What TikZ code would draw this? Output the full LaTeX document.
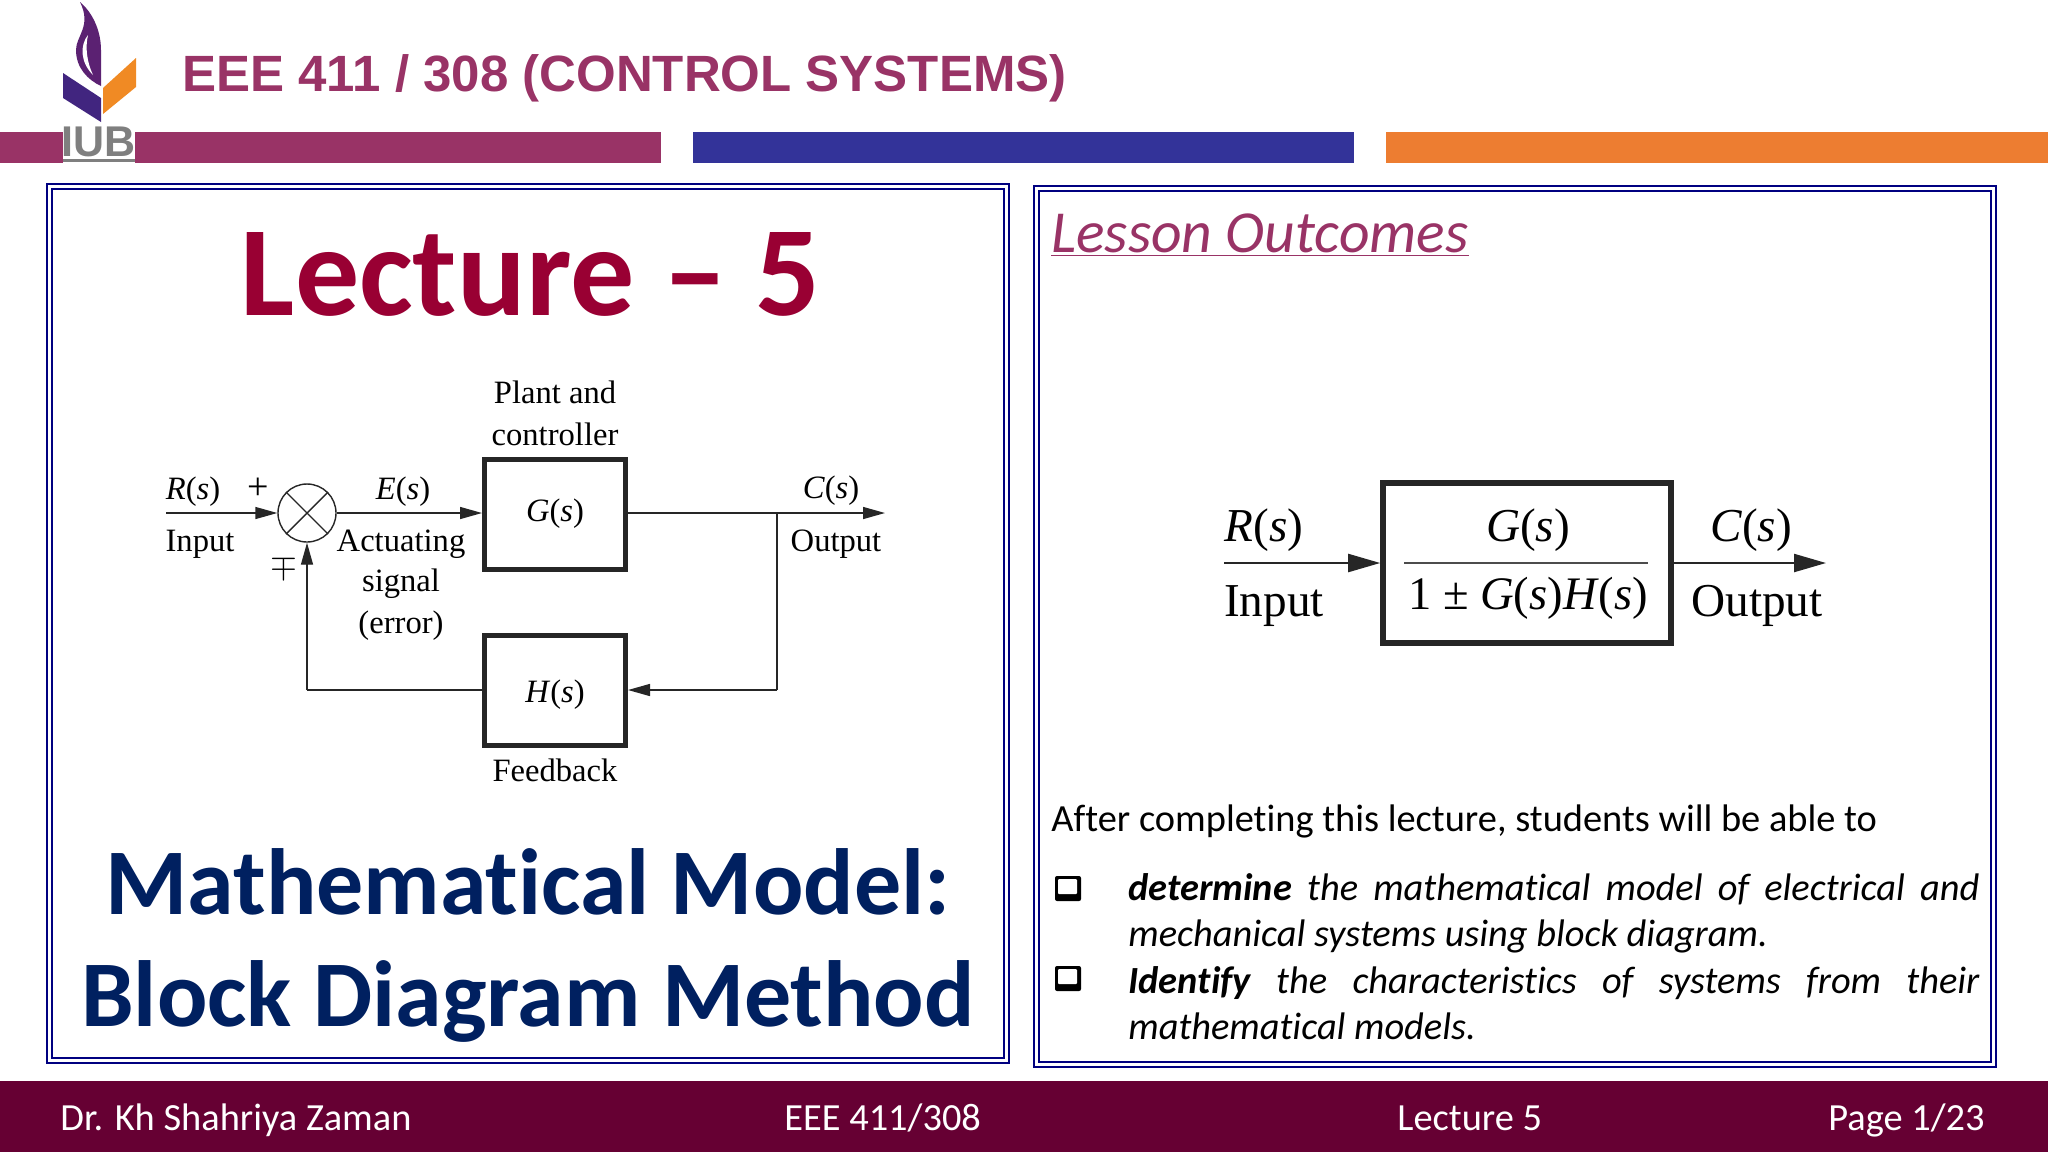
\documentclass[tikz,border=0pt]{standalone}
\usepackage{fontspec}
\usetikzlibrary{arrows.meta}
\setmainfont[Ligatures=NoCommon]{Carlito}
\newfontfamily\arialf{Liberation Sans}
\newfontfamily\timesf{Liberation Serif}
\definecolor{barpurple}{HTML}{993366}
\definecolor{barblue}{HTML}{333399}
\definecolor{barorange}{HTML}{ED7D31}
\definecolor{leccol}{HTML}{990033}
\definecolor{navytitle}{HTML}{002060}
\definecolor{framecol}{HTML}{000080}
\definecolor{footcol}{HTML}{660033}
\definecolor{flamecol}{HTML}{5B2172}
\definecolor{logoblue}{HTML}{41257F}
\definecolor{logoor}{HTML}{F08A24}
\definecolor{logogray}{HTML}{7F7F7F}
\newcommand{\fsz}[1]{\fontsize{#1}{#1}\selectfont}
\newcommand{\ts}[1]{\textit{#1}(\textit{s})}
\tikzset{
 x=0.5pt,y=-0.5pt,
 lab/.style={inner sep=0,anchor=base,font=\timesf\fsz{16.3}},
 big/.style={inner sep=0,anchor=base,font=\timesf\fsz{23.6}},
 blockbox/.style={draw=black!85,line width=2.5pt,minimum width=70.5pt,minimum height=55pt,inner sep=0,font=\timesf\fsz{16.3}},
 sig/.style={draw=black!85,line width=.7pt,-{Triangle[length=11pt,width=6pt]}},
 sigb/.style={draw=black!85,line width=1.1pt,-{Triangle[length=16pt,width=9pt]}},
 plain/.style={draw=black!85,line width=.7pt},
 foot/.style={inner sep=0,anchor=base west,text=white,font=\fsz{19.2}},
 bodyt/.style={inner sep=0,anchor=base west,font=\fsz{19.2}},
 bull/.style={inner sep=0,anchor=base west,font=\itshape\fontsize{19.2}{23}\selectfont,text width=425.5pt,align=justify},
 bigt/.style={inner sep=0,anchor=base,font=\bfseries\fsz{47},text=navytitle},
}
\begin{document}
\begin{tikzpicture}
\useasboundingbox (0,0) rectangle (2048,1152);
\fill[white] (0,0) rectangle (2048,1152);
% bars
\fill[barpurple] (0,132) rectangle (661,163);
\fill[barblue] (693,132) rectangle (1354,163);
\fill[barorange] (1386,132) rectangle (2048,163);
% logo
\fill[white] (63,130) rectangle (135,163);
\fill[flamecol] (80,2) .. controls (92,12) and (101,30) .. (101,50) -- (101,86) .. controls (88,80) and (76,68) .. (76,50) .. controls (76,36) and (92,26) .. (80,2) -- cycle;
\fill[white] (88,35) .. controls (80,45) and (80,62) .. (93,75) .. controls (87,62) and (85,48) .. (88,35) -- cycle;
\fill[logoblue] (63,73) -- (101,98) -- (101,122) -- (63,98) -- cycle;
\fill[logoor] (103,88) -- (136,58) -- (136,87) -- (103,114) -- cycle;
\node[inner sep=0,anchor=base,text=logogray,font=\arialf\bfseries\fsz{21.5}] (iub) at (99,156) {IUB};
\fill[logogray] (63,159) rectangle (135,162);
% title
\node[inner sep=0,anchor=base west,text=barpurple,font=\arialf\bfseries\fsz{25.5}] (title) at (182,91) {EEE 411 / 308 (CONTROL SYSTEMS)};
% frames
\foreach \a/\b/\c/\d in {47/184/1009/1063,1034/186/1996/1067}{
 \draw[framecol,line width=1pt] (\a,\b) rectangle (\c,\d);
 \draw[framecol,line width=.6pt] (\a+5,\b+5) rectangle (\c-5,\d-5);
}
% left
\node[inner sep=0,anchor=base,text=leccol,font=\bfseries\fsz{64}] (lec) at (531,315) {Lecture – 5};
\node[bigt] (mm) at (528,914) {Mathematical Model:};
\node[bigt] (bd) at (528,1026) {Block Diagram Method};
% left diagram
\node[draw=black!85,line width=.7pt,circle,minimum size=29pt,inner sep=0] (sum) at (307,513) {};
\draw[black!85,line width=.7pt] (sum.45) -- (sum.225) (sum.135) -- (sum.315);
\node[blockbox] (g) at (555,514) {\ts{G}};
\node[blockbox] (h) at (555,690) {};
\node[lab] (hl) at (555,702) {\ts{H}};
\coordinate (in) at (166,513);
\coordinate (out) at (885,513);
\coordinate (br) at (777,513);
\coordinate (fb1) at (777,690);
\coordinate (fb2) at (307,690);
\draw[sig] (in) -- (sum);
\draw[sig] (sum) -- (g.west|-sum);
\draw[sig] (g.east|-sum) -- (out);
\draw[plain] (br) -- (fb1);
\draw[sig] (fb1) -- (h.east|-fb1);
\draw[plain] (h.west|-fb2) -- (fb2);
\draw[sig] (fb2) -- (sum);
\node[lab] (rs) at (193,499) {\ts{R}};
\node[lab,font=\timesf\fsz{19}] (pl) at (258,499) {+};
\node[lab] (es) at (403,499) {\ts{E}};
\node[lab] (cs) at (831,498) {\ts{C}};
\node[lab] (inp) at (200,551) {Input};
\node[lab] (act) at (401,551) {Actuating};
\node[lab] (sgn) at (401,591) {signal};
\node[lab] (err) at (401,633) {(error)};
\node[lab] (opt) at (836,551) {Output};
\node[lab] (pa) at (555,403) {Plant and};
\node[lab] (co) at (555,445) {controller};
\node[lab] (fe) at (555,781) {Feedback};
\node[lab] (mp) at (284,575) {$\mp$};
% right
\node[inner sep=0,anchor=base west,text=barpurple,font=\itshape\fsz{29.8}] (lo) at (1051,252) {\underline{Lesson Outcomes}};
\node[draw=black!85,line width=2.8pt,minimum width=144pt,minimum height=80pt,inner sep=0] (tf) at (1527,563) {};
\coordinate (in2) at (1224,563);
\coordinate (out2) at (1826,563);
\draw[sigb] (in2) -- (tf);
\draw[sigb] (tf) -- (out2);
\node[big] (gs) at (1528,541) {\ts{G}};
\node[big,font=\timesf\fsz{23.3}] (den) at (1528,609) {1 ± \ts{G}\ts{H}};
\draw[black!70,line width=.6pt] (1404,563) -- (1648,563);
\node[big] (rs2) at (1264,541) {\ts{R}};
\node[big] (cs2) at (1751,541) {\ts{C}};
\node[big] (in3) at (1274,616) {Input};
\node[big] (ou3) at (1757,616) {Output};
\node[bodyt] (after) at (1051,831) {After completing this lecture, students will be able to};
\foreach \n/\yy in {c1/876,c2/966}{
 \fill[black,rounded corners=1pt] (1055,\yy) rectangle (1081,\yy+25);
 \fill[white,rounded corners=.5pt] (1058,\yy+3) rectangle (1077,\yy+18);
}
\node[bull] (b1) at (1128,900) {\textbf{determine} the mathematical model of electrical and\linebreak mechanical systems using block diagram.};
\node[bull] (b2) at (1128,993) {\textbf{Identify} the characteristics of systems from their\linebreak mathematical models.};
% footer
\fill[footcol] (0,1081) rectangle (2048,1152);
\node[foot] (f1) at (60,1130) {Dr. Kh Shahriya Zaman};
\node[foot] (f2) at (784,1130) {EEE 411/308};
\node[foot] (f3) at (1397,1130) {Lecture 5};
\node[foot] (f4) at (1828,1130) {Page 1/23};
\end{tikzpicture}
\end{document}
